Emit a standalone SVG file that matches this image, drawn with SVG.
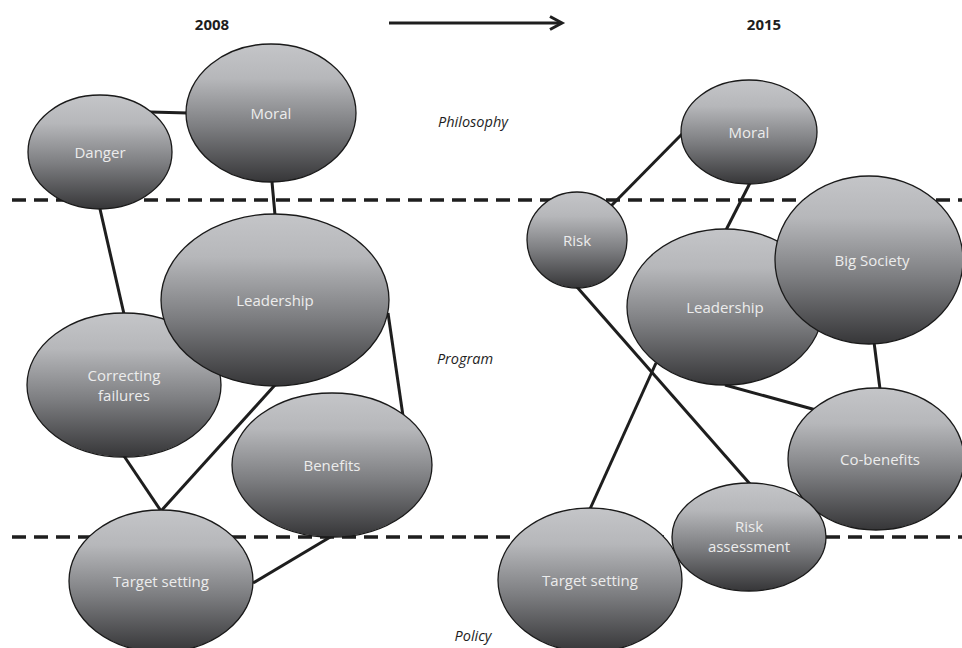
<svg xmlns="http://www.w3.org/2000/svg" width="962" height="648" viewBox="0 0 962 648">
<style>
.node{fill:url(#g);stroke:#1a1a1a;stroke-width:1.3}
.lbl{font-family:"Open Sans","Liberation Sans",sans-serif;font-size:15px;fill:#ececec;text-anchor:middle}
.conn{stroke:#1e1e1e;stroke-width:3;fill:none}
.dash{stroke:#1e1e1e;stroke-width:3.5;stroke-dasharray:14 8;fill:none}
.yr{font-family:"Open Sans","Liberation Sans",sans-serif;font-size:15px;font-weight:bold;fill:#1e1e1e;text-anchor:middle}
.lvl{font-family:"Open Sans","Liberation Sans",sans-serif;font-size:14.5px;font-style:italic;fill:#1e1e1e;text-anchor:middle}
</style>
<defs>
<linearGradient id="g" x1="0" y1="0" x2="0" y2="1">
<stop offset="0" stop-color="#c4c5c8"/>
<stop offset="0.25" stop-color="#b6b7ba"/>
<stop offset="0.6" stop-color="#7d7e81"/>
<stop offset="1" stop-color="#363638"/>
</linearGradient>
</defs>
<rect width="962" height="648" fill="#ffffff"/>
<g id="header">
<text class="yr" x="212" y="30">2008</text>
<text class="yr" x="764" y="30">2015</text>
<line class="conn" x1="389" y1="23" x2="561" y2="23"/>
<polyline class="conn" points="550,16.5 562,23 550,29.5"/>
</g>
<g id="levels">
<line class="dash" x1="12" y1="200" x2="962" y2="200"/>
<line class="dash" x1="12" y1="537" x2="962" y2="537"/>
<text class="lvl" x="473" y="127">Philosophy</text>
<text class="lvl" x="465" y="364">Program</text>
<text class="lvl" x="473" y="641">Policy</text>
</g>
<g id="connectors">
<line class="conn" x1="150" y1="112" x2="188" y2="113"/>
<line class="conn" x1="272" y1="182" x2="275" y2="215"/>
<line class="conn" x1="100" y1="209" x2="124" y2="314"/>
<line class="conn" x1="388" y1="313" x2="403" y2="416"/>
<line class="conn" x1="275" y1="385" x2="161" y2="511"/>
<line class="conn" x1="124" y1="456" x2="161" y2="511"/>
<line class="conn" x1="332" y1="536" x2="253" y2="583"/>
<line class="conn" x1="611" y1="206" x2="683" y2="133"/>
<line class="conn" x1="750" y1="183" x2="726" y2="230"/>
<line class="conn" x1="577" y1="287" x2="750" y2="484"/>
<line class="conn" x1="656" y1="363" x2="590" y2="509"/>
<line class="conn" x1="725" y1="385" x2="816" y2="410"/>
<line class="conn" x1="874" y1="342" x2="880" y2="389"/>
</g>
<g id="danger"><ellipse class="node" cx="100" cy="152" rx="72" ry="57"/><text class="lbl" x="100" y="158">Danger</text></g>
<g id="moral-2008"><ellipse class="node" cx="271" cy="113" rx="85" ry="69"/><text class="lbl" x="271" y="119">Moral</text></g>
<g id="correcting-failures"><ellipse class="node" cx="124" cy="385" rx="97" ry="72"/><text class="lbl" x="124" y="381">Correcting</text><text class="lbl" x="124" y="401">failures</text></g>
<g id="leadership-2008"><ellipse class="node" cx="275" cy="300" rx="114" ry="86"/><text class="lbl" x="275" y="306">Leadership</text></g>
<g id="benefits"><ellipse class="node" cx="332" cy="465" rx="100" ry="72"/><text class="lbl" x="332" y="471">Benefits</text></g>
<g id="target-2008"><ellipse class="node" cx="161" cy="581" rx="92" ry="71"/><text class="lbl" x="161" y="587">Target setting</text></g>
<g id="moral-2015"><ellipse class="node" cx="749" cy="132" rx="68" ry="52"/><text class="lbl" x="749" y="138">Moral</text></g>
<g id="risk"><ellipse class="node" cx="577" cy="240" rx="50" ry="48"/><text class="lbl" x="577" y="246">Risk</text></g>
<g id="leadership-2015"><ellipse class="node" cx="725" cy="307" rx="98" ry="78"/><text class="lbl" x="725" y="313">Leadership</text></g>
<g id="big-society"><ellipse class="node" cx="869" cy="260" rx="94" ry="84"/><text class="lbl" x="872" y="266">Big Society</text></g>
<g id="co-benefits"><ellipse class="node" cx="876" cy="459" rx="88" ry="71"/><text class="lbl" x="880" y="465">Co-benefits</text></g>
<g id="target-2015"><ellipse class="node" cx="590" cy="580" rx="92" ry="72"/><text class="lbl" x="590" y="586">Target setting</text></g>
<g id="risk-assessment"><ellipse class="node" cx="749" cy="537" rx="77" ry="54"/><text class="lbl" x="749" y="532">Risk</text><text class="lbl" x="749" y="552">assessment</text></g>
</svg>
